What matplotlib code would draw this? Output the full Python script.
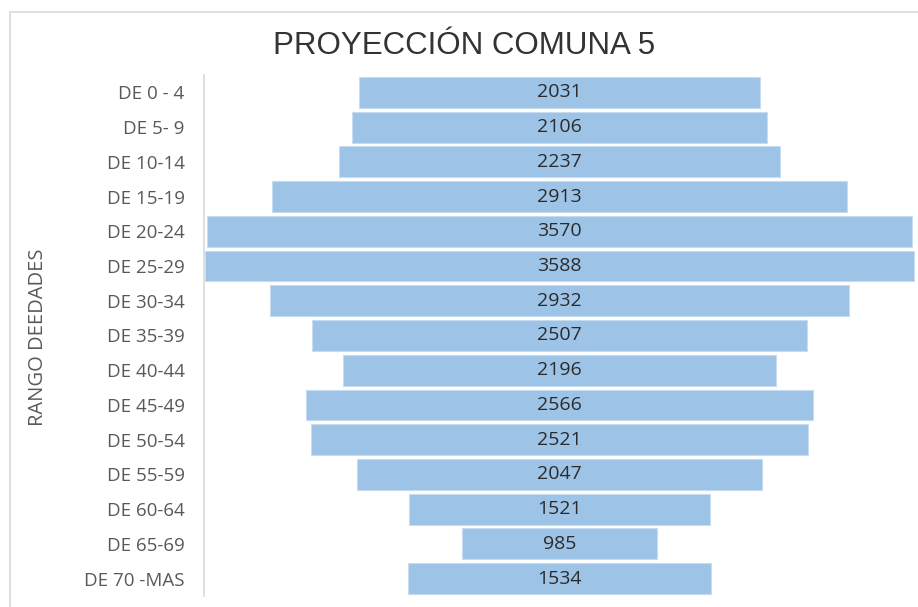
import matplotlib.pyplot as plt
from matplotlib.patches import Rectangle

# rangos de edad (de arriba hacia abajo) y poblacion proyectada
rangos = ["DE 0 - 4", "DE 5- 9", "DE 10-14", "DE 15-19", "DE 20-24",
          "DE 25-29", "DE 30-34", "DE 35-39", "DE 40-44", "DE 45-49",
          "DE 50-54", "DE 55-59", "DE 60-64", "DE 65-69", "DE 70 -MAS"]
poblacion = [2031, 2106, 2237, 2913, 3570, 3588, 2932, 2507, 2196, 2566,
             2521, 2047, 1521, 985, 1534]

W, H = 918, 607
fig = plt.figure(figsize=(W / 100, H / 100), dpi=100)

# marco gris del recorte
fig.patches.append(Rectangle((10 / W, -0.01), 1.0, (H - 12) / H + 0.01,
                             transform=fig.transFigure, fill=False,
                             edgecolor="#d9d9d9", linewidth=1.2))

ax = fig.add_axes([204 / W, 11 / H, 711 / W, 521 / H])

pos = list(range(len(rangos)))
izq = [-v / 2 for v in poblacion]
ax.barh(pos, poblacion, left=izq, height=0.89, color="#9dc3e6",
        edgecolor="#c5dcf1", linewidth=0.8)

for p, v in zip(pos, poblacion):
    ax.text(0, p, str(v), ha="center", va="center", fontsize=14,
            color="#2b2b2b", family="Open Sans")

ax.set_xlim(-1800, 1800)
ax.set_ylim(len(rangos) - 0.5, -0.5)
ax.set_yticks(pos)
ax.set_yticklabels(rangos, fontsize=13.5, color="#595959", family="Open Sans")
ax.tick_params(axis="y", length=0, pad=14)
ax.set_xticks([])

for s in ["top", "right", "bottom"]:
    ax.spines[s].set_visible(False)
ax.spines["left"].set_color("#d9d9d9")
ax.spines["left"].set_linewidth(1.2)

fig.text(38 / W, 1 - 337 / H, "RANGO DEEDADES", rotation=90, ha="center",
         va="center", fontsize=14.5, color="#595959", family="Open Sans")
fig.text(464 / W, 1 - 46 / H, "PROYECCIÓN COMUNA 5", ha="center",
         va="center", fontsize=22.5, color="#333333",
         family="Liberation Sans")

fig.savefig("out.png", dpi=100)
